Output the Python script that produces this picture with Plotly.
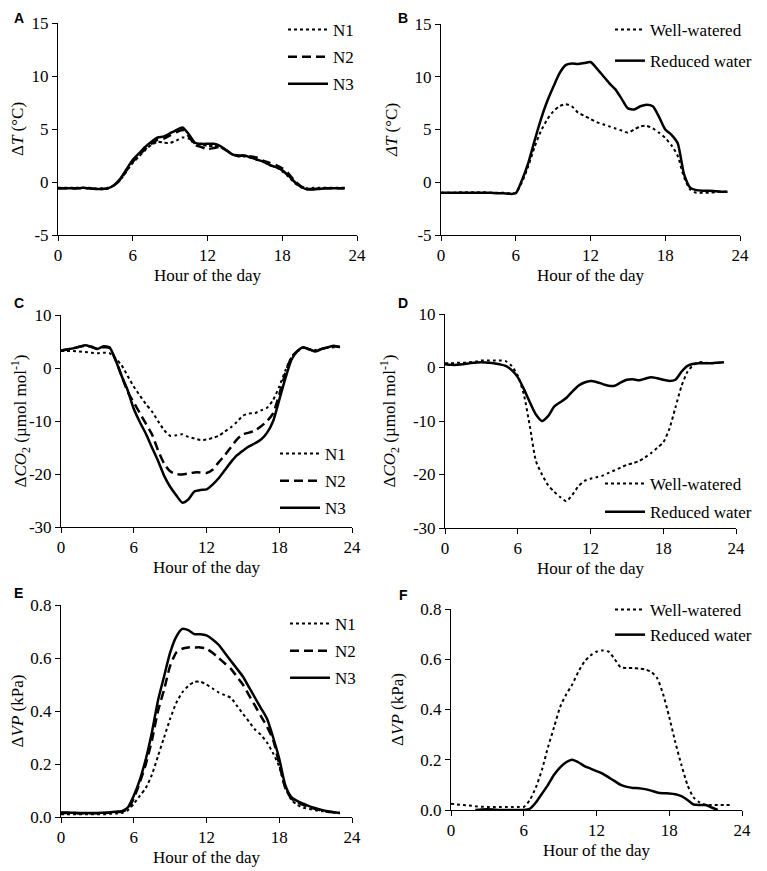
import plotly.graph_objects as go

# hour of the day, half-hour readings
hours = [0, 0.5, 1, 1.5, 2, 2.5, 3, 3.5, 4, 4.5,
         5, 5.5, 6, 6.5, 7, 7.5, 8, 8.5, 9, 9.5,
         10, 10.5, 11, 11.5, 12, 12.5, 13, 13.5, 14, 14.5,
         15, 15.5, 16, 16.5, 17, 17.5, 18, 18.5, 19, 19.5,
         20, 20.5, 21, 21.5, 22, 22.5, 23]

# A - delta T, nitrogen levels
dT_N1 = [-0.55, -0.55, -0.55, -0.55, -0.55, -0.55, -0.6, -0.6, -0.55, -0.3,
         0.2, 1.0, 1.8, 2.4, 3.0, 3.5, 3.8, 3.7, 3.7, 3.9,
         4.2, 4.1, 3.6, 3.5, 3.4, 3.4, 3.3, 3.0, 2.6, 2.4,
         2.4, 2.3, 2.1, 1.9, 1.6, 1.4, 1.0, 0.5, -0.1, -0.5,
         -0.6, -0.55, -0.55, -0.55, -0.55, -0.55, -0.55]
dT_N2 = [-0.6, -0.6, -0.6, -0.6, -0.6, -0.6, -0.65, -0.65, -0.6, -0.3,
         0.2, 1.1, 1.9, 2.5, 3.1, 3.6, 4.0, 4.1, 4.4, 4.7,
         4.9, 4.3, 3.5, 3.3, 3.1, 3.2, 3.3, 3.0, 2.6, 2.5,
         2.5, 2.4, 2.3, 2.0, 1.8, 1.6, 1.3, 0.8, 0.1, -0.4,
         -0.65, -0.65, -0.6, -0.6, -0.6, -0.6, -0.6]
dT_N3 = [-0.6, -0.6, -0.6, -0.6, -0.55, -0.6, -0.65, -0.65, -0.6, -0.3,
         0.3, 1.2, 2.1, 2.7, 3.3, 3.8, 4.2, 4.3, 4.6, 4.9,
         5.15, 4.5, 3.7, 3.6, 3.6, 3.6, 3.4, 3.0, 2.6, 2.45,
         2.5, 2.3, 2.1, 1.9, 1.6, 1.4, 1.1, 0.6, 0.0, -0.45,
         -0.7, -0.7, -0.65, -0.6, -0.6, -0.6, -0.6]

# B - delta T, water treatment
dT_well = [-1.0, -1.0, -1.0, -0.95, -0.95, -0.95, -0.95, -0.95, -1.0, -1.0,
           -1.0, -1.05, -1.0, 0.0, 1.5, 3.3, 4.8, 5.9, 6.7, 7.2,
           7.4, 7.2, 6.6, 6.3, 6.0, 5.7, 5.5, 5.3, 5.1, 4.9,
           4.7, 5.0, 5.3, 5.35, 5.1, 4.7, 4.2, 3.5, 2.5, 0.5,
           -0.7, -1.0, -1.0, -1.0, -0.95, -0.9, -0.9]
dT_reduced = [-1.0, -1.0, -1.0, -1.0, -1.0, -1.0, -1.0, -1.0, -1.0, -1.05,
              -1.05, -1.1, -1.05, 0.2, 1.8, 3.9, 5.9, 7.6, 9.0, 10.3,
              11.1, 11.25, 11.2, 11.3, 11.4, 10.8, 10.1, 9.4, 8.8, 7.9,
              7.0, 6.9, 7.2, 7.35, 7.2, 6.2, 5.0, 4.5, 3.7, 0.8,
              -0.5, -0.75, -0.8, -0.8, -0.85, -0.9, -0.9]

# C - delta CO2, nitrogen levels
dCO2_N1 = [3.2, 3.2, 3.2, 3.1, 3.0, 2.9, 2.8, 2.9, 2.8, 1.8,
           0.5, -1.5, -3.5, -5.2, -6.8, -8.2, -10.0, -11.7, -12.8, -12.7,
           -12.5, -13.0, -13.3, -13.6, -13.5, -13.2, -12.8, -12.0, -11.2, -10.2,
           -9.0, -8.6, -8.5, -8.0, -7.5, -6.0, -3.5, -0.5, 2.0, 3.2,
           3.8, 3.6, 3.4, 3.6, 3.8, 3.9, 4.0]
dCO2_N2 = [3.3, 3.5, 3.7, 4.0, 4.2, 4.0, 3.6, 3.9, 3.8, 1.5,
           -1.5, -4.5, -6.5, -8.5, -10.5, -12.5, -15.5, -18.0, -19.5, -20.0,
           -20.1, -19.9, -19.7, -19.7, -19.8, -19.2, -17.8, -16.5, -15.0, -13.5,
           -12.5, -12.2, -11.8, -11.0, -10.0, -8.5, -5.0, -1.0, 2.0, 3.2,
           3.8, 3.5, 3.2, 3.6, 3.9, 4.1, 4.0]
dCO2_N3 = [3.3, 3.5, 3.7, 4.0, 4.3, 4.0, 3.6, 4.1, 3.9, 1.5,
           -1.5, -4.2, -7.7, -10.2, -12.4, -15.0, -17.5, -20.3, -22.4, -24.0,
           -25.4, -24.8, -23.3, -23.0, -22.9, -22.0, -20.8, -19.3, -17.8, -16.5,
           -15.6, -14.8, -14.2, -13.5, -12.2, -10.0, -6.0, -2.0, 1.5, 3.2,
           3.9, 3.5, 3.1, 3.6, 3.9, 4.2, 3.9]

# D - delta CO2, water treatment
dCO2_well = [0.8, 0.8, 0.9, 0.9, 1.0, 1.1, 1.3, 1.3, 1.3, 1.3,
             1.2, 0.3, -1.5, -5.0, -11.0, -17.5, -20.0, -22.0, -23.2, -24.2,
             -25.0, -23.8, -22.2, -21.2, -20.8, -20.5, -20.2, -19.7, -19.2, -18.7,
             -18.2, -17.9, -17.5, -16.8, -16.0, -15.0, -14.0, -11.5, -7.5, -3.5,
             -0.8, 0.5, 1.0, 0.9, 0.8, 0.9, 1.0]
dCO2_reduced = [0.6, 0.5, 0.5, 0.6, 0.8, 0.9, 1.0, 0.9, 0.8, 0.6,
                0.3, -0.5, -1.8, -4.0, -6.5, -8.8, -10.0, -9.1, -7.3, -6.5,
                -5.7, -4.5, -3.4, -2.8, -2.5, -2.7, -3.1, -3.4, -3.4, -2.8,
                -2.3, -2.2, -2.4, -2.1, -1.8, -2.0, -2.3, -2.5, -2.3, -0.8,
                0.3, 0.7, 0.8, 0.8, 0.8, 0.9, 1.0]

# E - delta VP, nitrogen levels
dVP_N1 = [0.01, 0.01, 0.01, 0.01, 0.01, 0.01, 0.01, 0.01, 0.012, 0.013,
          0.015, 0.025, 0.05, 0.08, 0.11, 0.16, 0.23, 0.30, 0.37, 0.43,
          0.47, 0.495, 0.51, 0.51, 0.50, 0.485, 0.47, 0.46, 0.45, 0.42,
          0.39, 0.36, 0.33, 0.31, 0.28, 0.24, 0.19, 0.11, 0.065, 0.045,
          0.035, 0.03, 0.025, 0.022, 0.02, 0.017, 0.015]
dVP_N2 = [0.015, 0.015, 0.015, 0.014, 0.014, 0.014, 0.014, 0.015, 0.016, 0.018,
          0.02, 0.03, 0.07, 0.13, 0.2, 0.29, 0.40, 0.48, 0.57, 0.62,
          0.635, 0.64, 0.64, 0.64, 0.635, 0.62, 0.60, 0.58, 0.56, 0.53,
          0.50, 0.46, 0.42, 0.38, 0.34, 0.29, 0.2, 0.11, 0.07, 0.055,
          0.045, 0.037, 0.03, 0.025, 0.02, 0.018, 0.015]
dVP_N3 = [0.017, 0.017, 0.016, 0.015, 0.015, 0.015, 0.015, 0.016, 0.017, 0.02,
          0.022, 0.035, 0.08, 0.14, 0.22, 0.32, 0.44, 0.53, 0.62, 0.68,
          0.71, 0.705, 0.69, 0.69, 0.685, 0.67, 0.65, 0.62, 0.59, 0.56,
          0.53, 0.49, 0.45, 0.41, 0.37, 0.30, 0.22, 0.12, 0.075, 0.06,
          0.05, 0.04, 0.033, 0.027, 0.022, 0.018, 0.015]

# F - delta VP, water treatment
dVP_well = [0.025, 0.022, 0.02, 0.018, 0.015, 0.013, 0.012, 0.012, 0.012, 0.012,
            0.012, 0.012, 0.012, 0.04, 0.09, 0.16, 0.25, 0.33, 0.41, 0.46,
            0.50, 0.55, 0.59, 0.615, 0.63, 0.635, 0.63, 0.60, 0.568, 0.565,
            0.565, 0.563, 0.56, 0.55, 0.525, 0.46, 0.37, 0.27, 0.18, 0.10,
            0.05, 0.03, 0.02, 0.02, 0.02, 0.02, 0.02]
dVP_reduced = [None, None, None, None, 0.0, 0.002, 0.003, 0.002, 0.0, 0.0,
               0.0, 0.0, 0.0, 0.005, 0.03, 0.065, 0.10, 0.14, 0.17, 0.19,
               0.2, 0.19, 0.175, 0.165, 0.155, 0.145, 0.13, 0.115, 0.10, 0.092,
               0.088, 0.087, 0.083, 0.077, 0.07, 0.067, 0.066, 0.063, 0.055, 0.04,
               0.022, 0.02, 0.02, 0.01, 0.0, None, None]

x_ticks = [0, 6, 12, 18, 24]
dT_ticks = [-5, 0, 5, 10, 15]
dT_labels = ["-5", "0", "5", "10", "15"]
dCO2_ticks = [-30, -20, -10, 0, 10]
dCO2_labels = ["-30", "-20", "-10", "0", "10"]
dVP_ticks = [0, 0.2, 0.4, 0.6, 0.8]
dVP_labels = ["0.0", "0.2", "0.4", "0.6", "0.8"]

SERIF = "Liberation Serif"
styles = {
    "dot": dict(color="black", width=2, dash="dot"),
    "dash": dict(color="black", width=2.5, dash="9px,5px"),
    "solid": dict(color="black", width=2.5),
}

# panel: (letter, series, y range, tick values, tick labels, y title)
panels = [
    ("A", [("N1", dT_N1, "dot"), ("N2", dT_N2, "dash"), ("N3", dT_N3, "solid")],
     [-5, 15], dT_ticks, dT_labels, "Δ<i>T</i> (°C)"),
    ("B", [("Well-watered", dT_well, "dot"), ("Reduced water", dT_reduced, "solid")],
     [-5, 15], dT_ticks, dT_labels, "<i>ΔT</i> (°C)"),
    ("C", [("N1", dCO2_N1, "dot"), ("N2", dCO2_N2, "dash"), ("N3", dCO2_N3, "solid")],
     [-30, 10], dCO2_ticks, dCO2_labels, "Δ<i>CO</i><sub>2</sub> (µmol mol<sup>-1</sup>)"),
    ("D", [("Well-watered", dCO2_well, "dot"), ("Reduced water", dCO2_reduced, "solid")],
     [-30, 10], dCO2_ticks, dCO2_labels, "Δ<i>CO</i><sub>2</sub> (µmol mol<sup>-1</sup>)"),
    ("E", [("N1", dVP_N1, "dot"), ("N2", dVP_N2, "dash"), ("N3", dVP_N3, "solid")],
     [0, 0.8], dVP_ticks, dVP_labels, "Δ<i>VP</i> (kPa)"),
    ("F", [("Well-watered", dVP_well, "dot"), ("Reduced water", dVP_reduced, "solid")],
     [0, 0.8], dVP_ticks, dVP_labels, "Δ<i>VP</i> (kPa)"),
]

# positions measured in window pixels; the page body adds an 8px margin
OFF = 8
W, H = 767 - OFF, 871 - OFF
boxes = [(58, 357, 23, 235), (441, 740, 24, 235),
         (61, 352, 315, 527), (445, 736, 314, 528),
         (61, 352, 605, 817), (451, 742, 609, 810)]
legend_pos = [(283, 12), (610, 12), (275, 436), (600, 466), (285, 606), (610, 592)]
legend_gap = [2, 6, 2, 3, 2, 0]
legend_itemw = [40, 30, 40, 40, 40, 30]
letter_pos = [(12, 8), (396, 8), (12, 293), (396, 293), (12, 583), (397, 585)]


def fx(p):
    return (p - OFF) / W


def fy(p):
    return 1 - (p - OFF) / H


fig = go.Figure()
layout = dict(width=W, height=H, margin=dict(l=0, r=0, t=0, b=0, autoexpand=False),
              paper_bgcolor="white", plot_bgcolor="white",
              font=dict(family=SERIF, size=17, color="black"),
              annotations=[])

for i, (letter, series, yrange, yticks, ylabels, ytitle) in enumerate(panels):
    n = "" if i == 0 else str(i + 1)
    leg = "legend" + n
    for name, vals, st in series:
        fig.add_trace(go.Scatter(
            x=hours, y=vals, mode="lines", name=name,
            line=dict(shape="spline", smoothing=0.6, **styles[st]),
            xaxis="x" + n, yaxis="y" + n, legend=leg, legendgroup=letter + name,
            connectgaps=False, hoverinfo="skip"))

    l, r, t, b = boxes[i]
    layout["xaxis" + n] = dict(
        domain=[fx(l), fx(r)], anchor="y" + n, range=[0, 24], automargin=False,
        tickvals=x_ticks, showline=True, linecolor="black", linewidth=1,
        ticks="outside", ticklen=5, tickcolor="black", showgrid=False, zeroline=False,
        tickfont=dict(size=17), title=dict(text="Hour of the day", font=dict(size=17), standoff=4))
    layout["yaxis" + n] = dict(
        domain=[fy(b), fy(t)], anchor="x" + n, range=yrange, automargin=False,
        tickvals=yticks, ticktext=ylabels,
        showline=True, linecolor="black", linewidth=1,
        ticks="outside", ticklen=5, tickcolor="black", showgrid=False, zeroline=False,
        tickfont=dict(size=17), title=dict(text=ytitle, font=dict(size=17), standoff=12))
    lx, ly = legend_pos[i]
    layout[leg] = dict(x=fx(lx), y=fy(ly), xanchor="left", yanchor="top",
                       bgcolor="rgba(0,0,0,0)", font=dict(family=SERIF, size=17),
                       traceorder="grouped", tracegroupgap=legend_gap[i],
                       itemwidth=legend_itemw[i])
    px, py = letter_pos[i]
    layout["annotations"].append(dict(
        text="<b>" + letter + "</b>", x=fx(px), y=fy(py),
        xref="paper", yref="paper", xanchor="left", yanchor="top",
        showarrow=False, font=dict(family="Liberation Sans", size=14, color="black")))

fig.update_layout(**layout)
fig.write_html("out.html")
